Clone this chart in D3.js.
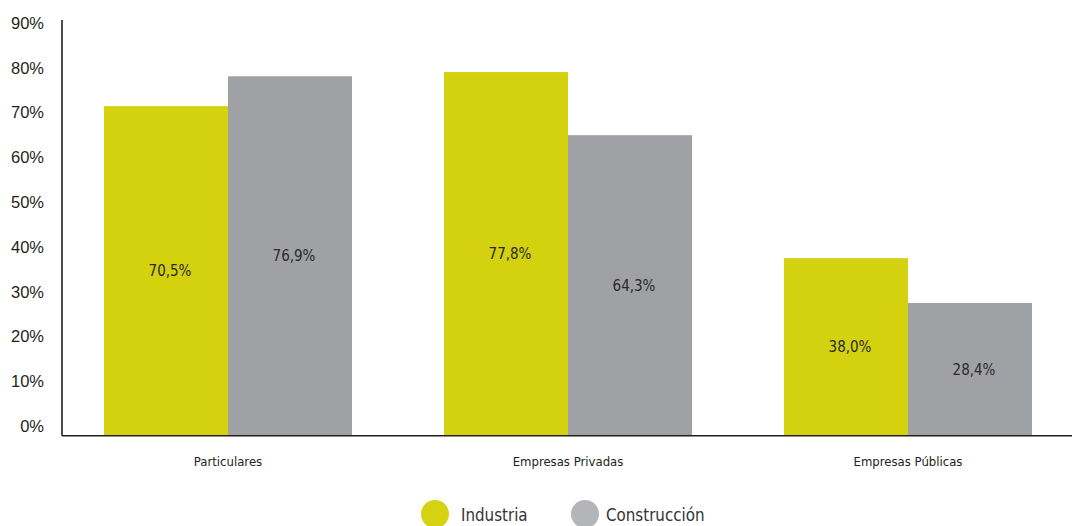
<!DOCTYPE html>
<html>
<head>
<meta charset="utf-8">
<script src="https://cdn.jsdelivr.net/npm/d3@7"></script>
<style>
  html, body { margin: 0; padding: 0; background: #fff; }
  svg { display: block; }
  .narrow { font-family: "Liberation Sans Narrow", "DejaVu Sans Condensed", "Roboto Condensed", sans-serif; font-stretch: condensed; }
</style>
</head>
<body>
<svg id="chart" width="1072" height="526"></svg>
<script>
const categories = ["Particulares", "Empresas Privadas", "Empresas Públicas"];
const seriesNames = ["Industria", "Construcción"];
const industria = [70.5, 77.8, 38.0];
const construccion = [76.9, 64.3, 28.4];
const valueLabels = [["70,5%", "77,8%", "38,0%"], ["76,9%", "64,3%", "28,4%"]];
const tickValues = [0, 10, 20, 30, 40, 50, 60, 70, 80, 90];
const tickLabels = ["0%", "10%", "20%", "30%", "40%", "50%", "60%", "70%", "80%", "90%"];
const barColors = ["#D4D10F", "#A0A1A4"];
const legendColors = ["#D5D211", "#B4B5B8"];

const svg = d3.select("#chart");
const seriesValues = [industria, construccion];

const x0 = d3.scaleBand().domain(categories).range([12, 1124]).padding(0.2706);
const x1 = d3.scaleBand().domain(seriesNames).range([0, x0.bandwidth()]).padding(0);
const y = d3.scaleLinear().domain([0, 90]).range([435.8, 15]);
const yLabels = d3.scaleLinear().domain([0, 90]).range([426.3, 23]);

// bars
const data = [];
categories.forEach((c, i) => seriesNames.forEach((s, j) => {
  data.push({ cat: c, series: s, si: j, value: seriesValues[j][i], label: valueLabels[j][i] });
}));

svg.append("g").selectAll("rect").data(data).join("rect")
  .attr("x", d => x0(d.cat) + x1(d.series))
  .attr("y", d => y(d.value))
  .attr("width", x1.bandwidth())
  .attr("height", d => y(0) - y(d.value))
  .attr("fill", d => barColors[d.si]);

svg.append("g").selectAll("text").data(data).join("text")
  .attr("class", "narrow")
  .attr("x", d => x0(d.cat) + x1(d.series) + x1.bandwidth() / 2 + 4)
  .attr("y", d => (y(d.value) + y(0)) / 2)
  .attr("dy", "0.35em")
  .attr("text-anchor", "middle")
  .attr("font-size", 15)
  .attr("fill", "#2a2a2a")
  .text(d => d.label);

// y axis labels
const yAxis = d3.axisLeft(yLabels).tickValues(tickValues).tickSize(0).tickPadding(0)
  .tickFormat((d, i) => tickLabels[i]);
const gy = svg.append("g").attr("transform", "translate(44,0)").call(yAxis);
gy.select(".domain").remove();
gy.selectAll("text")
  .attr("font-family", "'Liberation Sans', Arial, sans-serif")
  .attr("font-size", 16.5)
  .attr("fill", "#231F20");

// axis lines
svg.append("line").attr("x1", 62).attr("x2", 62).attr("y1", 20).attr("y2", y(0))
  .attr("stroke", "#231F20").attr("stroke-width", 1.6);
svg.append("line").attr("x1", 62).attr("x2", 1072).attr("y1", y(0)).attr("y2", y(0))
  .attr("stroke", "#231F20").attr("stroke-width", 1.6);

// category labels
const xAxis = d3.axisBottom(x0).tickSize(0).tickPadding(0);
const gx = svg.append("g").attr("transform", "translate(0,461)").call(xAxis);
gx.select(".domain").remove();
gx.selectAll("text")
  .attr("class", "narrow")
  .attr("font-family", null)
  .attr("dy", "0.35em")
  .attr("font-size", 13)
  .attr("fill", "#231F20");

// legend
const legendX = [435, 585];
const legendTextX = [461, 606];
const lg = svg.append("g");
seriesNames.forEach((s, i) => {
  lg.append("circle").attr("cx", legendX[i]).attr("cy", 514).attr("r", 14).attr("fill", legendColors[i]);
  lg.append("text").attr("class", "narrow")
    .attr("x", legendTextX[i]).attr("y", 521)
    .attr("font-size", 16.8).attr("fill", "#333")
    .text(s);
});
</script>
</body>
</html>
